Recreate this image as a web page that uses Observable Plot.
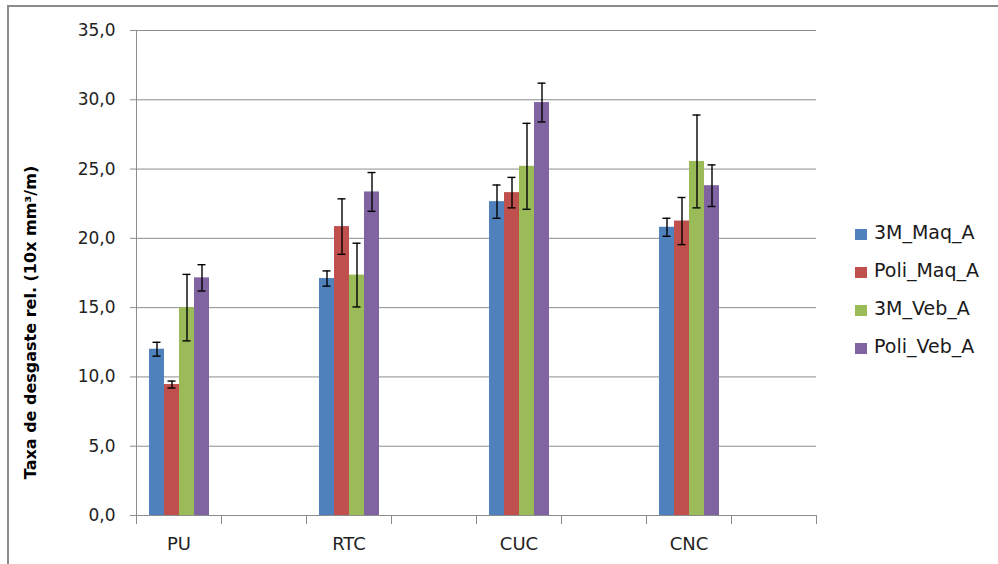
<!DOCTYPE html>
<html>
<head>
<meta charset="utf-8">
<script src="https://cdn.jsdelivr.net/npm/d3@7"></script>
<script src="https://cdn.jsdelivr.net/npm/@observablehq/plot@0.6"></script>
<style>
  html, body { margin: 0; padding: 0; background: #fff; }
  #wrap { position: relative; width: 998px; height: 564px; overflow: hidden; font-family: "DejaVu Sans", sans-serif; }
  #border { position: absolute; left: 7px; top: 5px; width: 1100px; height: 700px; border: 2px solid #8a8a8a; box-sizing: border-box; }
  #chart { position: absolute; left: 0; top: 0; }
  .lg { position: absolute; left: 855px; height: 24px; line-height: 24px; font-size: 19px; color: #1a1a1a; white-space: nowrap; }
  .lg span.sw { display: inline-block; width: 12px; height: 11px; margin-right: 7px; vertical-align: -1px; }
  #ytitle { position: absolute; font-weight: bold; font-size: 16px; color: #000; white-space: nowrap; transform-origin: center center; }
</style>
</head>
<body>
<div id="wrap">
  <div id="border"></div>
  <div id="chart"></div>
</div>
<script>
// ---- data ----
const categories = ["PU", "RTC", "CUC", "CNC"];
const series = ["3M_Maq_A", "Poli_Maq_A", "3M_Veb_A", "Poli_Veb_A"];
const colors = ["#4F81BD", "#C0504D", "#9BBB59", "#8064A2"];
const values3MMaq   = [12.0, 17.1, 22.65, 20.8];
const err3MMaq      = [0.5, 0.55, 1.2, 0.65];
const valuesPoliMaq = [9.45, 20.85, 23.3, 21.25];
const errPoliMaq    = [0.25, 2.0, 1.1, 1.7];
const values3MVeb   = [15.0, 17.35, 25.2, 25.55];
const err3MVeb      = [2.4, 2.3, 3.1, 3.35];
const valuesPoliVeb = [17.15, 23.35, 29.8, 23.8];
const errPoliVeb    = [0.95, 1.4, 1.4, 1.5];
const yTicks = [0, 5, 10, 15, 20, 25, 30, 35];
const yTitle = "Taxa de desgaste rel. (10x mm³/m)";

// ---- build table ----
const seriesValues = [values3MMaq, valuesPoliMaq, values3MVeb, valuesPoliVeb];
const seriesErrors = [err3MMaq, errPoliMaq, err3MVeb, errPoliVeb];
// category slots alternate with empty slots, as in the original axis
const slots = categories.flatMap((c, i) => [c, "empty" + i]);
const data = [];
categories.forEach((c, ci) => {
  series.forEach((s, si) => {
    const v = seriesValues[si][ci], e = seriesErrors[si][ci];
    data.push({slot: c, series: s, value: v, lo: v - e, hi: v + e});
  });
});

const W = 998, H = 564, mt = 30, mb = 49, ml = 133, mr = 179;
const plotH = H - mt - mb;
const grey = "#8c8c8c";

const chart = Plot.plot({
  width: W, height: H,
  marginTop: mt, marginBottom: mb, marginLeft: ml, marginRight: mr,
  style: {fontFamily: "DejaVu Sans, sans-serif", background: "transparent"},
  fx: {domain: slots, padding: 0, label: null, axis: null},
  x: {domain: series, paddingInner: 0, paddingOuter: 0.77, axis: null},
  y: {domain: [0, 35], axis: null},
  color: {domain: series, range: colors},
  marks: [
    Plot.gridY(yTicks.filter(t => t > 0), {stroke: grey, strokeOpacity: 1}),
    Plot.barY(data, {fx: "slot", x: "series", y: "value", fill: "series"}),
    Plot.ruleX(data, {fx: "slot", x: "series", y1: "lo", y2: "hi", stroke: "#000", strokeWidth: 1.4}),
    Plot.tickY(data, {fx: "slot", x: "series", y: "lo", stroke: "#000", strokeWidth: 1.4, insetLeft: 3.5, insetRight: 3.5}),
    Plot.tickY(data, {fx: "slot", x: "series", y: "hi", stroke: "#000", strokeWidth: 1.4, insetLeft: 3.5, insetRight: 3.5}),
    // x-axis baseline, one per slot (keeps every slot facet present)
    Plot.ruleY(slots, {fx: d => d, y: () => 0, stroke: grey}),
    Plot.frame({anchor: "left", facetAnchor: "left", stroke: grey}),
    Plot.frame({anchor: "left", insetTop: plotH, insetBottom: -8, stroke: grey}),
    Plot.frame({anchor: "right", facetAnchor: "right", insetTop: plotH, insetBottom: -8, stroke: grey}),
    Plot.axisY({ticks: yTicks, tickSize: 6, tickPadding: 15, stroke: grey, strokeOpacity: 1,
      tickFormat: d => d.toFixed(1).replace(".", ","), fontSize: 17, fill: "#222", label: null}),
    Plot.axisFx({anchor: "bottom", tickSize: 0, tickPadding: 22, fontSize: 18, fill: "#222", label: null,
      tickFormat: d => categories.includes(d) ? d : ""})
  ]
});
document.getElementById("chart").appendChild(chart);

// legend
const wrap = document.getElementById("wrap");
const rowCenters = [232, 270, 308, 346];
series.forEach((s, i) => {
  const div = document.createElement("div");
  div.className = "lg";
  div.style.top = (rowCenters[i] - 12) + "px";
  div.innerHTML = `<span class="sw" style="background:${colors[i]}"></span>${s}`;
  wrap.appendChild(div);
});

// y title
const t = document.createElement("div");
t.id = "ytitle";
t.textContent = yTitle;
wrap.appendChild(t);
const tw = t.offsetWidth, th = t.offsetHeight;
t.style.left = (30 - tw / 2) + "px";
t.style.top = (322 - th / 2) + "px";
t.style.transform = "rotate(-90deg)";
</script>
</body>
</html>
